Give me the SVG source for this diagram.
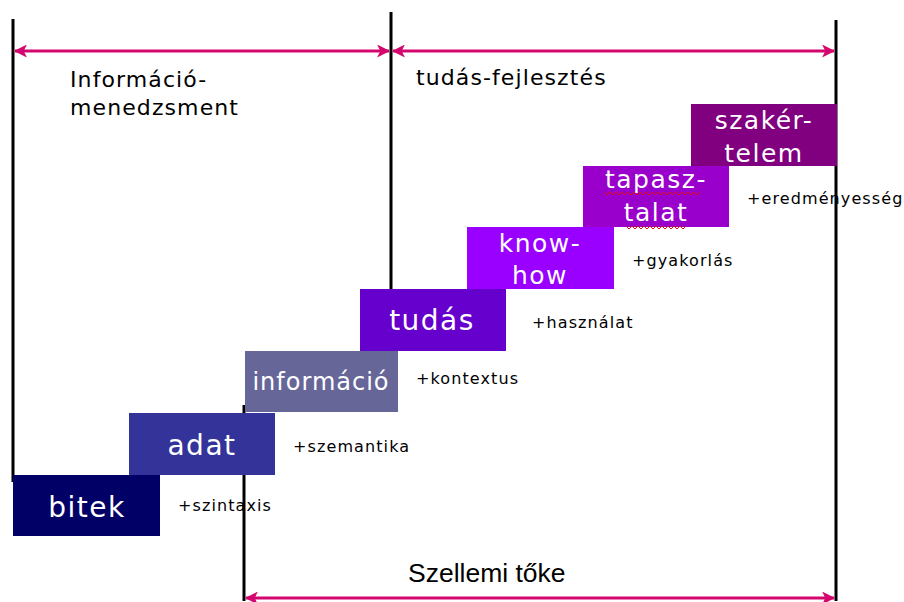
<svg xmlns="http://www.w3.org/2000/svg" width="904" height="602" viewBox="0 0 904 602">
<style>
.vl{stroke:#000;stroke-width:3;fill:none}
.ar{stroke:#d4066e;stroke-width:3;fill:none;marker-start:url(#ah);marker-end:url(#ah)}
.bx text{fill:#fff;font-family:"DejaVu Sans",sans-serif;text-anchor:middle}
.big{font-size:28px;letter-spacing:1.5px}
.mid{font-size:25px;letter-spacing:1.5px}
.lb{font-family:"DejaVu Sans",sans-serif;font-size:16px;letter-spacing:1.1px;fill:#000}
.hd{font-family:"DejaVu Sans",sans-serif;font-size:22px;letter-spacing:1.1px;fill:#000}
.sq{stroke:#e01010;stroke-width:1;fill:none}
</style>
<defs>
<marker id="ah" viewBox="0 0 12 12" refX="11" refY="6" markerWidth="13" markerHeight="13" markerUnits="userSpaceOnUse" orient="auto-start-reverse">
<path d="M0,0 L12,6 L0,12 L3,6 Z" fill="#d4066e"/>
</marker>
</defs>
<rect width="904" height="602" fill="#fff"/>
<g id="connectors">
<line class="vl" x1="13" y1="19" x2="13" y2="482"/>
<line class="vl" x1="391" y1="12" x2="391" y2="290"/>
<line class="vl" x1="836" y1="20" x2="836" y2="601"/>
<line class="vl" x1="244" y1="405" x2="244" y2="601"/>
<line class="ar" x1="15" y1="51" x2="389" y2="51"/>
<line class="ar" x1="393" y1="51" x2="834" y2="51"/>
<line class="ar" x1="246" y1="598" x2="834" y2="598"/>
</g>
<g id="labels">
<text class="hd" x="70" y="87">Információ-</text>
<text class="hd" x="70" y="115">menedzsment</text>
<text class="hd" x="416" y="85">tudás-fejlesztés</text>
<text x="408" y="582" font-family="Liberation Sans, sans-serif" font-size="26.5" fill="#000">Szellemi tőke</text>
<text class="lb" x="178" y="511">+szintaxis</text>
<text class="lb" x="293" y="452">+szemantika</text>
<text class="lb" x="416" y="384">+kontextus</text>
<text class="lb" x="532" y="328">+használat</text>
<text class="lb" x="632" y="266">+gyakorlás</text>
<text class="lb" x="747" y="204">+eredményesség</text>
</g>
<g id="bitek" class="bx">
<rect x="13" y="475" width="147" height="61" fill="#000066"/>
<text class="big" x="87" y="517">bitek</text>
</g>
<g id="adat" class="bx">
<rect x="129" y="413" width="146" height="62" fill="#333399"/>
<text class="big" x="202" y="455">adat</text>
</g>
<g id="informacio" class="bx">
<rect x="245" y="351" width="153" height="61" fill="#666699"/>
<text x="321" y="390" font-size="24" letter-spacing="1">információ</text>
</g>
<g id="tudas" class="bx">
<rect x="360" y="289" width="146" height="62" fill="#6600cc"/>
<text class="big" x="432" y="330">tudás</text>
</g>
<g id="knowhow" class="bx">
<rect x="467" y="227" width="147" height="62" fill="#9900ff"/>
<text class="mid" x="540" y="252">know-</text>
<text class="mid" x="540" y="284">how</text>
</g>
<g id="tapasztalat" class="bx">
<rect x="583" y="166" width="146" height="61" fill="#9900cc"/>
<text class="mid" x="656" y="188">tapasz-</text>
<text class="mid" x="656" y="221">talat</text>
<path class="sq" d="M604,192 l3,3 l3,-3 l3,3 l3,-3 l3,3 l3,-3 l3,3 l3,-3 l3,3 l3,-3 l3,3 l3,-3 l3,3 l3,-3 l3,3 l3,-3 l3,3 l3,-3 l3,3 l3,-3 l3,3 l3,-3 l3,3 l3,-3 l3,3 l3,-3 l3,3 l3,-3 l3,3 l3,-3 l3,3 l3,-3"/>
<path class="sq" d="M626,226 l3,3 l3,-3 l3,3 l3,-3 l3,3 l3,-3 l3,3 l3,-3 l3,3 l3,-3 l3,3 l3,-3 l3,3 l3,-3 l3,3 l3,-3 l3,3 l3,-3 l3,3 l3,-3"/>
</g>
<g id="szakertelem" class="bx">
<rect x="691" y="104" width="146" height="62" fill="#800080"/>
<text class="mid" x="764" y="129">szakér-</text>
<text class="mid" x="764" y="162">telem</text>
</g>
</svg>
